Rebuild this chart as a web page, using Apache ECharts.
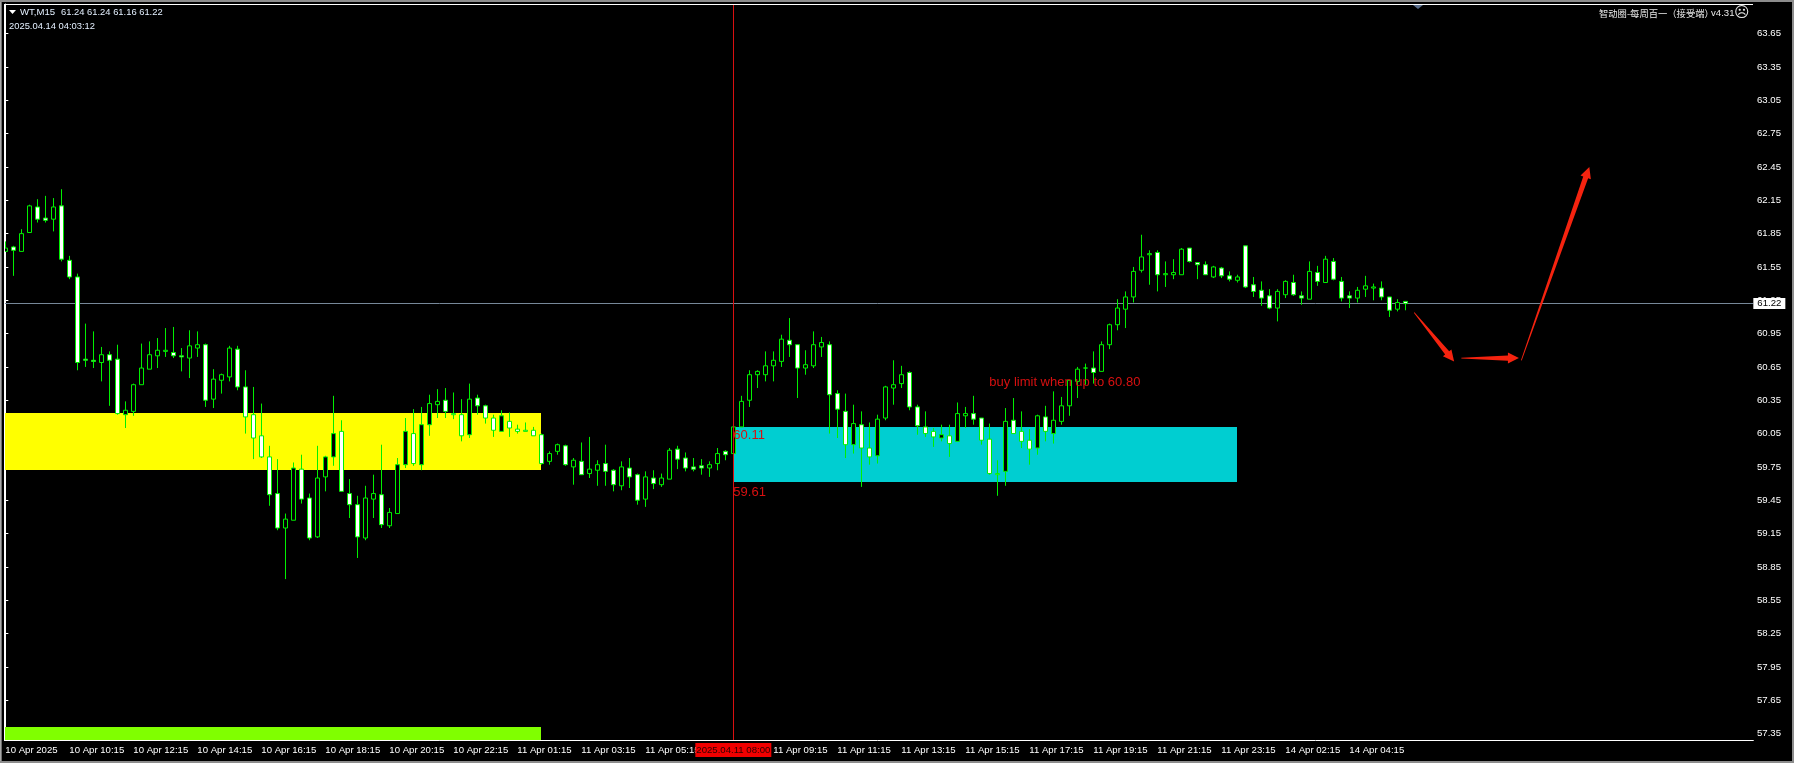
<!DOCTYPE html>
<html>
<head>
<meta charset="utf-8">
<script src="https://cdn.jsdelivr.net/npm/echarts@6/dist/echarts.min.js"></script>
<style>html,body{margin:0;padding:0;background:#000}#c{width:1794px;height:763px}</style>
</head>
<body>
<div id="c"></div>
<script>
var opens = [61.69,61.73,61.69,61.86,62.09,61.99,61.98,62.10,61.61,61.46,60.72,60.71,60.69,60.76,60.72,60.22,60.25,60.49,60.63,60.75,
60.79,60.78,60.75,60.73,60.82,60.85,60.36,60.53,60.56,60.81,60.47,60.22,60.03,59.84,59.51,59.20,59.27,59.73,59.47,59.12,
59.66,59.84,60.07,59.51,59.41,59.11,59.46,59.50,59.22,59.33,59.77,60.05,59.77,60.13,60.31,60.35,60.23,60.22,60.04,60.37,
60.30,60.19,60.07,60.16,60.09,60.08,60.08,60.04,59.80,59.89,59.94,59.75,59.80,59.69,59.72,59.78,59.72,59.58,59.74,59.68,
59.46,59.65,59.59,59.64,59.91,59.83,59.75,59.76,59.74,59.78,59.89,59.87,60.11,60.35,60.58,60.58,60.66,60.70,60.89,60.85,
60.64,60.66,60.83,60.85,60.41,60.25,59.95,60.13,59.92,59.85,60.19,60.46,60.50,60.60,60.29,60.11,60.07,60.01,60.03,59.98,
60.21,60.23,60.19,60.00,59.69,59.71,60.17,60.07,59.99,59.92,60.20,60.05,60.16,60.30,60.52,60.64,60.64,60.61,60.85,61.03,
61.17,61.28,61.52,61.66,61.68,61.48,61.48,61.48,61.72,61.59,61.57,61.46,61.54,61.47,61.43,61.74,61.39,61.34,61.29,61.18,
61.30,61.41,61.29,61.26,61.50,61.41,61.60,61.42,61.29,61.27,61.35,61.36,61.36,61.28,61.17,61.24];
var closes = [61.72,61.70,61.85,62.10,61.98,61.97,62.09,61.62,61.46,60.69,60.71,60.70,60.76,60.71,60.23,60.26,60.49,60.64,60.76,60.80,
60.80,60.75,60.74,60.84,60.85,60.35,60.54,60.58,60.82,60.47,60.20,60.01,59.84,59.50,59.20,59.28,59.74,59.46,59.11,59.65,
59.84,60.05,59.53,59.41,59.12,59.47,59.51,59.23,59.34,59.77,60.07,59.78,60.13,60.32,60.34,60.25,60.22,60.03,60.36,60.30,
60.19,60.08,60.21,60.10,60.07,60.07,60.03,59.78,59.87,59.95,59.77,59.81,59.68,59.73,59.77,59.71,59.59,59.75,59.66,59.45,
59.66,59.60,59.65,59.90,59.82,59.74,59.73,59.74,59.77,59.87,59.86,60.11,60.34,60.58,60.61,60.66,60.71,60.90,60.85,60.64,
60.67,60.85,60.87,60.40,60.27,59.95,60.14,59.92,59.84,60.18,60.47,60.49,60.58,60.29,60.12,60.05,60.02,60.04,59.96,60.23,
60.23,60.18,59.99,59.69,59.68,60.16,60.05,59.98,59.91,60.21,60.07,60.17,60.30,60.53,60.63,60.64,60.60,60.85,61.03,61.18,
61.28,61.51,61.64,61.67,61.48,61.49,61.50,61.71,61.60,61.57,61.48,61.55,61.47,61.44,61.46,61.37,61.33,61.27,61.18,61.33,
61.42,61.30,61.27,61.51,61.42,61.62,61.44,61.27,61.27,61.34,61.38,61.37,61.28,61.16,61.23,61.22];
var lows = [61.69,61.47,61.69,61.86,61.95,61.95,61.87,61.60,61.44,60.62,60.65,60.64,60.52,60.30,60.22,60.10,60.21,60.49,60.63,60.64,
60.74,60.73,60.61,60.55,60.74,60.29,60.28,60.41,60.52,60.44,60.05,59.82,59.83,59.40,59.18,58.74,59.27,59.42,59.09,59.11,
59.53,59.76,59.53,59.29,58.93,59.09,59.29,59.20,59.20,59.33,59.74,59.76,59.72,60.03,60.19,60.19,60.18,59.98,60.01,60.22,
60.14,60.02,60.07,60.02,60.05,60.07,60.03,59.77,59.77,59.86,59.76,59.59,59.68,59.65,59.58,59.58,59.53,59.54,59.56,59.41,
59.39,59.55,59.57,59.64,59.73,59.71,59.71,59.68,59.66,59.72,59.81,59.87,60.11,60.29,60.46,60.52,60.52,60.65,60.74,60.37,
60.58,60.64,60.74,60.05,60.01,59.83,59.87,59.57,59.77,59.78,60.17,60.31,60.46,60.26,60.04,60.02,59.93,59.98,59.84,59.98,
60.10,60.13,59.95,59.68,59.49,59.58,60.05,59.92,59.77,59.86,59.98,59.96,60.13,60.21,60.37,60.49,60.50,60.61,60.81,60.98,
61.00,61.23,61.50,61.39,61.33,61.37,61.44,61.48,61.59,61.44,61.48,61.45,61.45,61.42,61.41,61.36,61.28,61.20,61.17,61.06,
61.27,61.29,61.21,61.26,61.38,61.41,61.43,61.24,61.18,61.23,61.28,61.25,61.25,61.10,61.15,61.16];
var highs = [61.78,61.74,61.89,62.11,62.16,62.19,62.17,62.25,61.65,61.49,61.04,60.97,60.83,60.79,60.85,60.34,60.50,60.86,60.88,60.91,
61.00,61.01,60.82,60.98,60.97,60.86,60.63,60.59,60.84,60.84,60.62,60.47,60.32,59.94,59.82,59.33,59.79,59.86,59.51,59.94,
59.85,60.39,60.17,59.64,59.49,59.58,59.68,59.95,59.38,59.83,60.19,60.27,60.29,60.40,60.45,60.46,60.42,60.36,60.50,60.40,
60.31,60.22,60.26,60.24,60.13,60.15,60.11,60.05,59.89,59.96,59.95,59.83,59.97,60.02,59.81,59.95,59.73,59.80,59.83,59.69,
59.71,59.72,59.69,59.92,59.94,59.88,59.83,59.82,59.80,59.92,59.90,60.11,60.39,60.62,60.62,60.79,60.79,60.94,61.09,60.85,
60.80,60.97,60.92,60.88,60.44,60.41,60.31,60.25,60.15,60.22,60.48,60.71,60.66,60.61,60.31,60.25,60.10,60.13,60.13,60.33,
60.29,60.39,60.19,60.14,59.81,60.28,60.37,60.25,60.09,60.22,60.30,60.43,60.38,60.53,60.65,60.68,60.79,60.88,61.04,61.26,
61.33,61.55,61.84,61.70,61.70,61.60,61.62,61.72,61.72,61.59,61.60,61.56,61.55,61.51,61.48,61.74,61.46,61.42,61.35,61.35,
61.43,61.48,61.33,61.60,61.56,61.65,61.63,61.46,61.33,61.37,61.47,61.40,61.42,61.28,61.26,61.24];

var xTickLabels = ['10 Apr 2025','10 Apr 10:15','10 Apr 12:15','10 Apr 14:15','10 Apr 16:15','10 Apr 18:15','10 Apr 20:15','10 Apr 22:15',
'11 Apr 01:15','11 Apr 03:15','11 Apr 05:15','11 Apr 07:15','11 Apr 09:15','11 Apr 11:15','11 Apr 13:15','11 Apr 15:15','11 Apr 17:15',
'11 Apr 19:15','11 Apr 21:15','11 Apr 23:15','14 Apr 02:15','14 Apr 04:15'];
var yTickValues = [57.35,57.65,57.95,58.25,58.55,58.85,59.15,59.45,59.75,60.05,60.35,60.65,60.95,61.25,61.55,61.85,62.15,62.45,62.75,63.05,63.35,63.65];

var barsPerTick = 8, slotCount = 219;
var categories = [];
for (var s = 0; s < slotCount; s++) categories.push(s % barsPerTick === 0 && xTickLabels[s / barsPerTick] || ('·' + s));

var zoneBars = [[0, 67], [91, 154], [0, 67]];
var zonePrices = [[60.236, 59.724], [60.11, 59.61], [57.408, 57.29]];
var zoneColors = ['#FFFF00', '#00CED1', '#80FF00'];

var lastPrice = 61.22, crossBar = 91, crossLabel = '2025.04.11 08:00';

var notes = ['60.11', '59.61', 'buy limit when up to 60.80'];
var noteBars = [91, 91, 123];
var notePrices = [60.03, 59.52, 60.51];

var arrowFromBars = [176.1, 182, 189.5];
var arrowFromPrices = [61.14, 60.73, 60.71];
var arrowToBars = [181.1, 189.2, 198];
var arrowToPrices = [60.70, 60.73, 62.45];

var candleData = opens.map(function (o, i) { return [o, closes[i], lows[i], highs[i]]; });
var zoneData = zoneBars.map(function (b, i) { return [b[0], b[1], zonePrices[i][0], zonePrices[i][1], i]; });
var noteData = notes.map(function (t, i) { return [noteBars[i], notePrices[i], i]; });
var arrowData = arrowFromBars.map(function (b, i) { return [b, arrowFromPrices[i], arrowToBars[i], arrowToPrices[i]]; });

var AXIS_FONT = 'Liberation Sans', AXIS_SIZE = 9.6;
var chart = echarts.init(document.getElementById('c'), null, { renderer: 'canvas' });

function txt(x, y, text, size, color, family, align) {
  return { type: 'text', x: x, y: y, z: 100, silent: true,
    style: { text: text, fill: color, font: size + 'px "' + family + '"', align: align || 'left', verticalAlign: 'middle' } };
}
function box(x, y, w, h, fill) {
  return { type: 'rect', z: 90, silent: true, shape: { x: x, y: y, width: w, height: h }, style: { fill: fill } };
}

chart.setOption({
  animation: false,
  backgroundColor: '#000',
  grid: { left: 1.33, top: 4, width: 1752, height: 736, containLabel: false },
  xAxis: [{
    type: 'category', data: categories, boundaryGap: true, position: 'bottom',
    axisLine: { lineStyle: { color: '#fff', width: 1 } },
    axisTick: { alignWithLabel: true, length: 3, lineStyle: { color: '#fff' },
      interval: function (i) { return i % barsPerTick === 0 && i / barsPerTick < xTickLabels.length; } },
    axisLabel: { color: '#fff', fontFamily: AXIS_FONT, fontSize: AXIS_SIZE, align: 'left', margin: 5, hideOverlap: false,
      interval: function (i) { return i % barsPerTick === 0 && i / barsPerTick < xTickLabels.length; } },
    splitLine: { show: false }
  }, {
    type: 'value', min: -0.5, max: 218.5, show: false
  }],
  yAxis: {
    type: 'value', position: 'right', min: 57.2915, max: 63.9173, offset: -1.33, scale: true,
    axisLine: { show: true, lineStyle: { color: '#fff', width: 1 } },
    axisTick: { show: true, length: 3, lineStyle: { color: '#fff' }, customValues: yTickValues },
    axisLabel: { color: '#fff', fontFamily: AXIS_FONT, fontSize: AXIS_SIZE, margin: 5, customValues: yTickValues,
      formatter: function (v) { return v.toFixed(2); } },
    splitLine: { show: false }
  },
  series: [
    { type: 'custom', name: 'zones', xAxisIndex: 1, z: 1, silent: true, clip: false,
      data: zoneData, encode: { x: [0, 1], y: [2, 3] },
      renderItem: function (p, api) {
        var a = api.coord([api.value(0), api.value(2)]), b = api.coord([api.value(1), api.value(3)]);
        return { type: 'rect', shape: { x: Math.round(a[0]), y: Math.round(a[1]), width: Math.round(b[0]) - Math.round(a[0]), height: Math.round(b[1]) - Math.round(a[1]) },
          style: { fill: zoneColors[api.value(4)] } };
      },
      markLine: { silent: true, symbol: 'none', z: 2, animation: false, precision: 2,
        data: [
          { yAxis: lastPrice, lineStyle: { color: '#778899', width: 1, type: 'solid' },
            label: { show: true, position: 'end', distance: 0, formatter: lastPrice.toFixed(2), color: '#000', backgroundColor: '#fff',
              fontFamily: AXIS_FONT, fontSize: AXIS_SIZE, padding: [0, 4, 0, 4], lineHeight: 11 } }
        ] } },
    { type: 'candlestick', name: 'WT,M15', xAxisIndex: 0, z: 3, data: candleData, barWidth: 5, silent: true,
      itemStyle: { color: '#000', color0: '#fff', borderColor: '#00F000', borderColor0: '#00F000', borderColorDoji: '#00F000', borderWidth: 1 } },
    { type: 'line', name: 'crosshair', xAxisIndex: 0, z: 4, data: [], silent: true,
      markLine: { silent: true, symbol: 'none', z: 4, animation: false,
        data: [{ xAxis: crossBar, lineStyle: { color: '#D81010', width: 1, type: 'solid' },
          label: { show: true, position: 'start', distance: 3, formatter: crossLabel, color: '#300000', backgroundColor: '#F00000',
            fontFamily: AXIS_FONT, fontSize: AXIS_SIZE, padding: [1, 1, 1, 1], lineHeight: 12 } }] } },
    { type: 'custom', name: 'notes', xAxisIndex: 1, z: 5, silent: true, clip: false,
      data: noteData, encode: { x: 0, y: 1 },
      renderItem: function (p, api) {
        var a = api.coord([api.value(0), api.value(1)]);
        return { type: 'text', x: a[0], y: a[1],
          style: { text: notes[api.value(2)], fill: '#D81010', font: '13px "Liberation Sans"', align: 'left', verticalAlign: 'middle' } };
      } },
    { type: 'custom', name: 'arrows', xAxisIndex: 1, z: 6, silent: true, clip: false,
      data: arrowData, encode: { x: [0, 2], y: [1, 3] },
      renderItem: function (p, api) {
        var a = api.coord([api.value(0), api.value(1)]), b = api.coord([api.value(2), api.value(3)]);
        var dx = b[0] - a[0], dy = b[1] - a[1], L = Math.sqrt(dx * dx + dy * dy), ux = dx / L, uy = dy / L, nx = -uy, ny = ux;
        var hl = 11, hw = 5.5, nw = 2.6, tw = 0.4;
        var cx = b[0] - ux * hl, cy = b[1] - uy * hl;
        return { type: 'polygon', shape: { points: [
          [a[0] + nx * tw, a[1] + ny * tw], [cx + nx * nw, cy + ny * nw], [cx + nx * hw, cy + ny * hw], b,
          [cx - nx * hw, cy - ny * hw], [cx - nx * nw, cy - ny * nw], [a[0] - nx * tw, a[1] - ny * tw]] },
          style: { fill: '#F5230F' } };
      } }
  ],
  graphic: { elements: [
    box(0, 0, 5, 763, '#000'),
    box(0, 0, 1, 763, '#A8A8A8'), box(1, 0, 1, 763, '#6E6E6E'),
    box(4, 4, 1, 737, '#FFFFFF'),
    box(0, 0, 1794, 2, '#8C8C8C'),
    box(4, 4, 1749, 1, '#FFFFFF'),
    box(1792, 0, 2, 763, '#8C8C8C'),
    box(0, 761, 1794, 2, '#8C8C8C'),
    { type: 'polygon', z: 100, silent: true, shape: { points: [[1413, 5], [1423, 5], [1418, 9]] }, style: { fill: '#5A6E8C' } },
    { type: 'polygon', z: 100, silent: true, shape: { points: [[9, 10], [16, 10], [12.5, 14]] }, style: { fill: '#fff' } },
    txt(20, 12.5, 'WT,M15', 9.6, '#E4F0FF', 'Liberation Sans'),
    txt(61, 12.5, '61.24 61.24 61.16 61.22', 9.4, '#E4F0FF', 'Liberation Sans'),
    txt(9, 26, '2025.04.14 04:03:12', 9.4, '#E4F0FF', 'Liberation Sans'),
    txt(1599, 13.5, '智动圈-每周百一（接受端）', 9.3, '#E8E8E8', 'Noto Sans CJK SC'),
    txt(1711, 13.5, 'v4.31', 9.6, '#E8E8E8', 'Liberation Sans'),
    txt(1734, 13.5, '☹', 15, '#E8E8E8', 'DejaVu Sans')
  ] }
});
</script>
</body>
</html>
